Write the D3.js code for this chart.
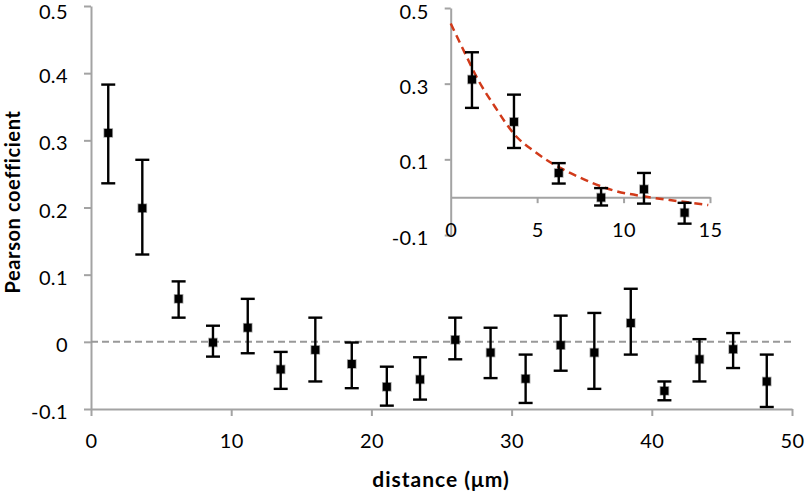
<!DOCTYPE html>
<html>
<head>
<meta charset="utf-8">
<script src="https://cdn.jsdelivr.net/npm/d3@7"></script>
<style>
  html, body { margin: 0; padding: 0; background: #fff; }
  svg { display: block; font-family: Lato, "Open Sans", sans-serif; }
</style>
</head>
<body>
<svg id="chart" width="805" height="493"></svg>
<script>
// ---- data ----
const distance = [1.23, 3.66, 6.25, 8.70, 11.18, 13.53, 16.0, 18.6, 21.1, 23.47, 25.98, 28.5, 31.0, 33.5, 35.9, 38.5, 40.9, 43.4, 45.8, 48.2];
const pearson  = [0.311, 0.199, 0.064, -0.001, 0.021, -0.041, -0.012, -0.033, -0.067, -0.056, 0.003, -0.016, -0.055, -0.005, -0.016, 0.028, -0.073, -0.026, -0.011, -0.059];
const errUpper = [0.383, 0.271, 0.090, 0.024, 0.064, -0.015, 0.036, -0.001, -0.037, -0.023, 0.036, 0.021, -0.019, 0.039, 0.043, 0.079, -0.059, 0.004, 0.013, -0.019];
const errLower = [0.236, 0.130, 0.036, -0.022, -0.017, -0.070, -0.059, -0.069, -0.095, -0.086, -0.026, -0.054, -0.091, -0.043, -0.070, -0.019, -0.087, -0.059, -0.039, -0.097];

const mainXTicks = [0, 10, 20, 30, 40, 50];
const mainYTicks = [-0.1, 0, 0.1, 0.2, 0.3, 0.4, 0.5];
const mainYTickLabels = ["-0.1", "0", "0.1", "0.2", "0.3", "0.4", "0.5"];

const insetXTicks = [0, 5, 10, 15];
const insetYTicks = [-0.1, 0.1, 0.3, 0.5];
const insetYTickLabels = ["-0.1", "0.1", "0.3", "0.5"];

// exponential fit curve
const fitX = [0, 0.83, 1.6, 2.56, 3.72, 4.87, 6.03, 7.38, 9.4, 11.33, 13.25, 14.9];
const fitY = [0.459, 0.380, 0.309, 0.239, 0.164, 0.120, 0.085, 0.054, 0.018, 0.001, -0.011, -0.021];

const xTitle = "distance (\u03bcm)";
const yTitle = "Pearson coefficient";

// ---- drawing ----
const svg = d3.select("#chart");
const AXIS = "#a3a3a3";
const FS = 20;
const TFS = 21;

const points = distance.map((d, i) => ({x: d, y: pearson[i], lo: errLower[i], hi: errUpper[i]}));

function drawPanel(g, x, y, data) {
  const eb = g.append("g");
  data.forEach(p => {
    const cx = x(p.x);
    eb.append("line").attr("x1", cx).attr("x2", cx).attr("y1", y(p.hi)).attr("y2", y(p.lo))
      .attr("stroke", "#000").attr("stroke-width", 2.4);
    [p.hi, p.lo].forEach(v => {
      eb.append("line").attr("x1", cx - 7).attr("x2", cx + 7).attr("y1", y(v)).attr("y2", y(v))
        .attr("stroke", "#000").attr("stroke-width", 2.4);
    });
  });
  g.append("g").selectAll("rect").data(data).join("rect")
    .attr("x", d => x(d.x) - 4).attr("y", d => y(d.y) - 4)
    .attr("width", 8).attr("height", 8)
    .attr("fill", "#000").attr("stroke", "rgba(0,0,0,0.35)").attr("stroke-width", 1.6);
}

// main scales
const x = d3.scaleLinear().domain([0, 50]).range([91, 792]);
const y = d3.scaleLinear().domain([-0.1, 0.5]).range([409, 6]);

const yAxisG = svg.append("g").attr("transform", `translate(${x(0)},0)`)
  .call(d3.axisLeft(y).tickValues(mainYTicks).tickSize(7).tickSizeOuter(0)
    .tickFormat((d, i) => mainYTickLabels[i]));
const xAxisG = svg.append("g").attr("transform", `translate(0,${y(-0.1)})`)
  .call(d3.axisBottom(x).tickValues(mainXTicks).tickSize(7).tickSizeOuter(0)
    .tickFormat(d3.format("d")));

[yAxisG, xAxisG].forEach(g => {
  g.select(".domain").attr("stroke", AXIS).attr("stroke-width", 2);
  g.selectAll(".tick line").attr("stroke", AXIS).attr("stroke-width", 2);
  g.selectAll("text").attr("font-size", FS).attr("fill", "#000").attr("font-family", "Lato, sans-serif")
    .attr("letter-spacing", 0.4);
});
// keep the topmost label inside the picture, as in the reference
yAxisG.selectAll("text").attr("x", -23).attr("dy", null).attr("y", d => Math.max(9.5, 18.2 - y(d)));
xAxisG.selectAll("text").attr("y", 39).attr("dy", null);

svg.append("line").attr("x1", x(0)).attr("x2", x(50)).attr("y1", y(0)).attr("y2", y(0))
  .attr("stroke", "#999").attr("stroke-width", 2).attr("stroke-dasharray", "7,4");

drawPanel(svg.append("g"), x, y, points);

svg.append("text").attr("x", 441).attr("y", 487).attr("text-anchor", "middle")
  .attr("font-size", TFS).attr("font-weight", "bold").attr("letter-spacing", 1).text(xTitle);
svg.append("text").attr("transform", "translate(19.5,202) rotate(-90)").attr("text-anchor", "middle")
  .attr("font-size", 20).attr("font-weight", "bold").attr("letter-spacing", 0.6).text(yTitle);

// ---- inset ----
const xi = d3.scaleLinear().domain([0, 15]).range([450.7, 710]);
const yi = d3.scaleLinear().domain([-0.1, 0.5]).range([235, 8]);
const inset = svg.append("g");

const iy = inset.append("g").attr("transform", `translate(${xi(0)},0)`)
  .call(d3.axisLeft(yi).tickValues(insetYTicks).tickSize(6).tickSizeOuter(0)
    .tickFormat((d, i) => insetYTickLabels[i]));
const ix = inset.append("g").attr("transform", `translate(0,${yi(0)})`)
  .call(d3.axisBottom(xi).tickValues(insetXTicks).tickSize(6).tickSizeOuter(0)
    .tickFormat(d3.format("d")));
[iy, ix].forEach(g => {
  g.select(".domain").attr("stroke", AXIS).attr("stroke-width", 2);
  g.selectAll(".tick line").attr("stroke", AXIS).attr("stroke-width", 2);
  g.selectAll("text").attr("font-size", FS).attr("fill", "#000").attr("font-family", "Lato, sans-serif")
    .attr("letter-spacing", 0.4);
});
iy.selectAll("text").attr("x", -22).attr("dy", null).attr("y", d => Math.max(9.5, 18.2 - yi(d)));
ix.selectAll(".tick line").filter(d => d === 0).remove();
ix.selectAll("text").attr("y", yi(-0.1) + 2 - yi(0)).attr("dy", null);

const fitPts = fitX.map((d, i) => [d, fitY[i]]);
inset.append("path").datum(fitPts)
  .attr("d", d3.line().x(d => xi(d[0])).y(d => yi(d[1])).curve(d3.curveMonotoneX))
  .attr("fill", "none").attr("stroke", "#d13a1a").attr("stroke-width", 2.5)
  .attr("stroke-dasharray", "8,5");

drawPanel(inset.append("g"), xi, yi, points.filter(p => p.x <= 15));
</script>
</body>
</html>
